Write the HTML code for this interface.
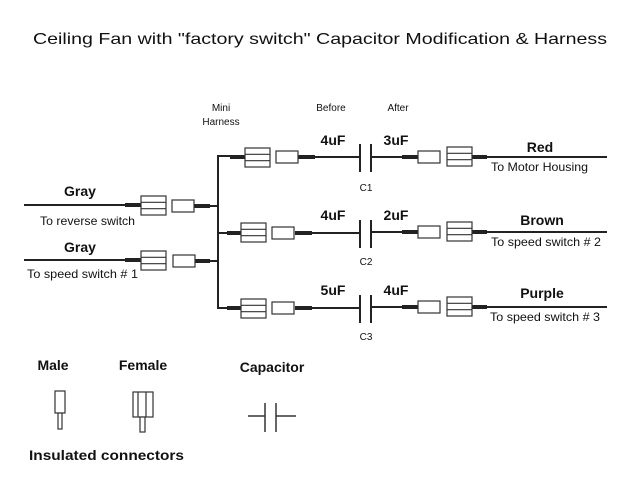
<!DOCTYPE html>
<html><head><meta charset="utf-8"><style>
html,body{margin:0;padding:0;background:#fff;width:640px;height:480px;overflow:hidden}
svg{display:block}
text{font-family:"Liberation Sans",Arial,sans-serif;fill:#111}
</style></head><body>
<svg width="640" height="480" viewBox="0 0 640 480" xmlns="http://www.w3.org/2000/svg">
<defs>
<g id="fem"><rect x="0" y="0" width="25" height="19" fill="#fff" stroke="#333" stroke-width="1.2"/><line x1="0" y1="6.3" x2="25" y2="6.3" stroke="#333" stroke-width="1.2"/><line x1="0" y1="12.7" x2="25" y2="12.7" stroke="#333" stroke-width="1.2"/></g>
<g id="male"><rect x="0" y="0" width="22" height="12" fill="#fff" stroke="#333" stroke-width="1.2"/></g>
</defs>
<text x="320" y="44" font-size="16" text-anchor="middle" textLength="574" lengthAdjust="spacingAndGlyphs">Ceiling Fan with "factory switch" Capacitor Modification &amp; Harness</text>
<text x="221" y="111" font-size="10" text-anchor="middle">Mini</text>
<text x="221" y="125" font-size="10" text-anchor="middle">Harness</text>
<text x="331" y="111" font-size="10" text-anchor="middle">Before</text>
<text x="398" y="111" font-size="10" text-anchor="middle">After</text>

<g stroke="#222" fill="none">
<line x1="24" y1="205" x2="141" y2="205" stroke-width="2"/>
<line x1="125" y1="205" x2="141" y2="205" stroke-width="4"/>
<line x1="194" y1="206" x2="218" y2="206" stroke-width="2"/>
<line x1="194" y1="206" x2="210" y2="206" stroke-width="4"/>
<line x1="24" y1="260" x2="141" y2="260" stroke-width="2"/>
<line x1="125" y1="260" x2="141" y2="260" stroke-width="4"/>
<line x1="194" y1="261" x2="218" y2="261" stroke-width="2"/>
<line x1="194" y1="261" x2="210" y2="261" stroke-width="4"/>
<line x1="218" y1="155" x2="218" y2="309" stroke-width="2"/>
<line x1="218" y1="156" x2="245" y2="156" stroke-width="2"/>
<line x1="230" y1="157" x2="245" y2="157" stroke-width="4"/>
<line x1="298" y1="157" x2="360" y2="157" stroke-width="2"/>
<line x1="298" y1="157" x2="315" y2="157" stroke-width="4"/>
<line x1="218" y1="233" x2="241" y2="233" stroke-width="2"/>
<line x1="227" y1="233" x2="241" y2="233" stroke-width="4"/>
<line x1="295" y1="233" x2="360" y2="233" stroke-width="2"/>
<line x1="295" y1="233" x2="312" y2="233" stroke-width="4"/>
<line x1="218" y1="308" x2="241" y2="308" stroke-width="2"/>
<line x1="227" y1="308" x2="241" y2="308" stroke-width="4"/>
<line x1="295" y1="308" x2="360" y2="308" stroke-width="2"/>
<line x1="295" y1="308" x2="312" y2="308" stroke-width="4"/>
<g stroke-width="2">
<line x1="360" y1="144" x2="360" y2="172"/><line x1="371" y1="144" x2="371" y2="172"/>
<line x1="360" y1="220" x2="360" y2="248"/><line x1="371" y1="220" x2="371" y2="248"/>
<line x1="360" y1="295" x2="360" y2="323"/><line x1="371" y1="295" x2="371" y2="323"/>
</g>
<line x1="371" y1="157" x2="418" y2="157" stroke-width="2"/>
<line x1="402" y1="157" x2="418" y2="157" stroke-width="4"/>
<line x1="472" y1="157" x2="607" y2="157" stroke-width="2"/>
<line x1="472" y1="157" x2="487" y2="157" stroke-width="4"/>
<line x1="371" y1="232" x2="418" y2="232" stroke-width="2"/>
<line x1="402" y1="232" x2="418" y2="232" stroke-width="4"/>
<line x1="472" y1="232" x2="607" y2="232" stroke-width="2"/>
<line x1="472" y1="232" x2="487" y2="232" stroke-width="4"/>
<line x1="371" y1="307" x2="418" y2="307" stroke-width="2"/>
<line x1="402" y1="307" x2="418" y2="307" stroke-width="4"/>
<line x1="472" y1="307" x2="607" y2="307" stroke-width="2"/>
<line x1="472" y1="307" x2="487" y2="307" stroke-width="4"/>
</g>
<use href="#fem" x="141" y="196"/><use href="#male" x="172" y="200"/>
<use href="#fem" x="141" y="251"/><use href="#male" x="173" y="255"/>
<use href="#fem" x="245" y="148"/><use href="#male" x="276" y="151"/>
<use href="#fem" x="241" y="223"/><use href="#male" x="272" y="227"/>
<use href="#fem" x="241" y="299"/><use href="#male" x="272" y="302"/>
<use href="#male" x="418" y="151"/><use href="#fem" x="447" y="147"/>
<use href="#male" x="418" y="226"/><use href="#fem" x="447" y="222"/>
<use href="#male" x="418" y="301"/><use href="#fem" x="447" y="297"/>

<g font-size="14" font-weight="bold" text-anchor="middle">
<text x="80" y="196">Gray</text>
<text x="80" y="252">Gray</text>
<text x="333" y="145">4uF</text><text x="396" y="145">3uF</text>
<text x="333" y="220">4uF</text><text x="396" y="220">2uF</text>
<text x="333" y="295">5uF</text><text x="396" y="295">4uF</text>
<text x="540" y="152">Red</text>
<text x="542" y="225">Brown</text>
<text x="542" y="298">Purple</text>
</g>
<g font-size="12">
<text x="40" y="225" textLength="95" lengthAdjust="spacingAndGlyphs">To reverse switch</text>
<text x="27" y="278" textLength="111" lengthAdjust="spacingAndGlyphs">To speed switch # 1</text>
<text x="491" y="171" textLength="97" lengthAdjust="spacingAndGlyphs">To Motor Housing</text>
<text x="491" y="246" textLength="110" lengthAdjust="spacingAndGlyphs">To speed switch # 2</text>
<text x="490" y="321" textLength="110" lengthAdjust="spacingAndGlyphs">To speed switch # 3</text>
</g>
<g font-size="10" text-anchor="middle">
<text x="366" y="191">C1</text><text x="366" y="265">C2</text><text x="366" y="340">C3</text>
</g>

<g font-size="14" font-weight="bold" text-anchor="middle">
<text x="53" y="370">Male</text>
<text x="143" y="370">Female</text>
<text x="272" y="372">Capacitor</text>
</g>
<text x="29" y="460" font-size="14" font-weight="bold" textLength="155" lengthAdjust="spacingAndGlyphs">Insulated connectors</text>
<g fill="#fff" stroke="#333" stroke-width="1.2">
<rect x="55" y="391" width="10" height="22"/>
<rect x="58" y="413" width="4" height="16"/>
<rect x="133" y="392" width="20" height="25"/>
<line x1="138" y1="392" x2="138" y2="417"/><line x1="146" y1="392" x2="146" y2="417"/>
<rect x="140" y="417" width="5" height="15"/>
</g>
<g stroke="#333" stroke-width="1.5">
<line x1="248" y1="416" x2="265" y2="416"/><line x1="276" y1="416" x2="296" y2="416"/>
<line x1="265" y1="403" x2="265" y2="432"/><line x1="276" y1="403" x2="276" y2="432"/>
</g>
</svg>
</body></html>
